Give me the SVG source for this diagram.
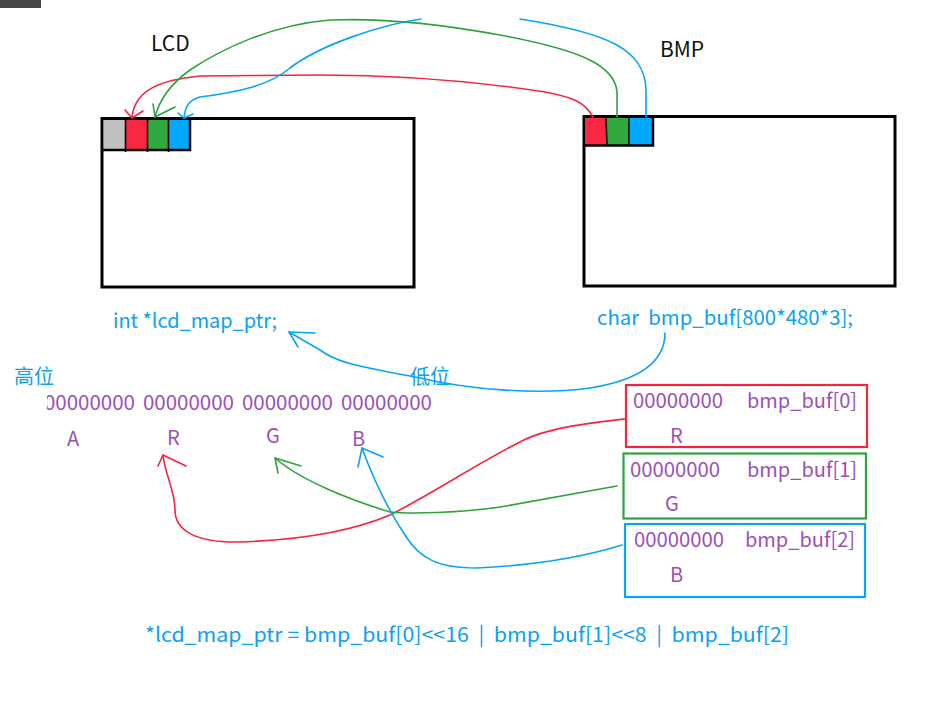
<svg xmlns="http://www.w3.org/2000/svg" width="947" height="714" viewBox="0 0 947 714">
<style>
text{font-family:"Noto Sans CJK SC","Noto Sans",sans-serif;}
.lbl{font-size:21px;fill:#111;}
.bl{font-size:20px;fill:#0aa1f0;white-space:pre;}
.pu{font-size:20px;fill:#9b4fb8;white-space:pre;}
.frame{fill:none;stroke:#000;stroke-width:3;}
.r{fill:none;stroke:#f5243f;stroke-width:1.6;stroke-linecap:round;stroke-linejoin:round;}
.g{fill:none;stroke:#2ea23c;stroke-width:1.6;stroke-linecap:round;stroke-linejoin:round;}
.b{fill:none;stroke:#08a4fa;stroke-width:1.6;stroke-linecap:round;stroke-linejoin:round;}
</style>
<defs>
<clipPath id="clipbin"><rect x="47" y="380" width="420" height="50"/></clipPath>
</defs>
<rect x="0" y="0" width="947" height="714" fill="#fff"/>
<rect x="0" y="0" width="41" height="8" fill="#474747"/>

<g id="lcd">
<text class="lbl" x="151" y="51">LCD</text>
<rect class="frame" x="102" y="118.5" width="312" height="168.5"/>
<rect x="104" y="120" width="21" height="30" fill="#c0c0c0"/>
<rect x="126" y="120" width="21" height="30" fill="#fb2841"/>
<rect x="148" y="120" width="20" height="30" fill="#31a93e"/>
<rect x="169" y="120" width="20" height="30" fill="#00a8ff"/>
<path d="M102,150 H190 V118.5" fill="none" stroke="#000" stroke-width="2.5"/>
<path d="M125.5,119 V152 M147.5,119 V152 M168.5,119 V152" stroke="#000" stroke-width="1.6"/>
</g>

<g id="bmp">
<text class="lbl" x="660" y="57">BMP</text>
<rect class="frame" x="584" y="116.5" width="311" height="169.5"/>
<rect x="585" y="118" width="21" height="27" fill="#fb2841"/>
<rect x="607" y="118" width="22" height="27" fill="#31a93e"/>
<rect x="630" y="118" width="22" height="27" fill="#00a8ff"/>
<path d="M584,145.5 H653 V116.5" fill="none" stroke="#000" stroke-width="2.5"/>
<path d="M606,117 L607,146 M629,117 V146" stroke="#000" stroke-width="1.6"/>
</g>

<g id="lcd-ptr">
<text class="bl" x="113" y="328" textLength="164" lengthAdjust="spacingAndGlyphs">int *lcd_map_ptr;</text>
</g>
<g id="bmp-buf">
<text class="bl" x="597" y="325" textLength="256" lengthAdjust="spacingAndGlyphs">char  bmp_buf[800*480*3];</text>
</g>

<g id="bits">
<text class="bl" x="14" y="384">高位</text>
<text class="bl" x="410" y="384">低位</text>
<g clip-path="url(#clipbin)">
<text class="pu" x="44" y="410" textLength="91" lengthAdjust="spacingAndGlyphs">00000000</text>
</g>
<text class="pu" x="143" y="410" textLength="91" lengthAdjust="spacingAndGlyphs">00000000</text>
<text class="pu" x="242" y="410" textLength="91" lengthAdjust="spacingAndGlyphs">00000000</text>
<text class="pu" x="341" y="410" textLength="91" lengthAdjust="spacingAndGlyphs">00000000</text>
<text class="pu" x="67" y="446">A</text>
<text class="pu" x="167" y="445">R</text>
<text class="pu" x="266" y="443">G</text>
<text class="pu" x="352" y="446">B</text>
</g>

<g id="buf0">
<rect x="626" y="385" width="241" height="62" fill="none" stroke="#f5243f" stroke-width="2.2"/>
<text class="pu" x="633" y="408" textLength="90" lengthAdjust="spacingAndGlyphs">00000000</text>
<text class="pu" x="747" y="408" textLength="110" lengthAdjust="spacingAndGlyphs">bmp_buf[0]</text>
<text class="pu" x="670" y="443">R</text>
</g>
<g id="buf1">
<rect x="623.5" y="453.5" width="242.5" height="65" fill="none" stroke="#2ea23c" stroke-width="2.2"/>
<text class="pu" x="630" y="477" textLength="90" lengthAdjust="spacingAndGlyphs">00000000</text>
<text class="pu" x="747" y="477" textLength="110" lengthAdjust="spacingAndGlyphs">bmp_buf[1]</text>
<text class="pu" x="665" y="511">G</text>
</g>
<g id="buf2">
<rect x="625" y="524" width="240" height="73" fill="none" stroke="#08a4fa" stroke-width="2.2"/>
<text class="pu" x="634" y="547" textLength="90" lengthAdjust="spacingAndGlyphs">00000000</text>
<text class="pu" x="745" y="547" textLength="110" lengthAdjust="spacingAndGlyphs">bmp_buf[2]</text>
<text class="pu" x="670" y="582">B</text>
</g>

<g id="formula">
<text class="bl" x="145" y="642" textLength="644" lengthAdjust="spacingAndGlyphs">*lcd_map_ptr = bmp_buf[0]&lt;&lt;16  |  bmp_buf[1]&lt;&lt;8  |  bmp_buf[2]</text>
</g>

<g id="connectors">
<path class="r" d="M593,117 C585,102 572,97 545,92 C480,82 400,75 320,75 L200,76 C160,80 135,90 132,117"/>
<path class="r" d="M125,110 L132,118 L143,111"/>
<path class="g" d="M617,117 L617,92 C615,65 580,50 500,35 C440,24 380,18 330,20 C270,25 220,50 190,70 C165,88 158,105 155,117"/>
<path class="g" d="M153,104 L155,117 L175,107"/>
<path class="b" d="M646,117 L646,90 C645,50 610,33 520,19"/>
<path class="b" d="M421,19 C380,25 320,45 290,68 C270,85 240,92 200,97 C188,100 185,108 184,118"/>
<path class="b" d="M178,113 L184,118 L193,114"/>
<path class="b" d="M665,333 C665,362 640,380 590,388 C540,395 470,390 420,378 C370,368 340,365 320,350 L289,332"/>
<path class="b" d="M315,333 L289,332 L298,347"/>
<path class="r" d="M625,419 C590,423 545,428 520,442 C480,462 430,495 390,515 C350,532 300,540 240,542 C195,543 175,530 175,510 C175,490 165,475 163,455"/>
<path class="r" d="M158,466 L163,455 L186,466"/>
<path class="g" d="M617,486 C580,493 540,500 500,507 C460,513 410,514 390,512 C350,500 300,480 275,458"/>
<path class="g" d="M278,473 L275,458 L301,466"/>
<path class="b" d="M622,545 C590,555 540,565 477,568 C440,568 420,560 405,535 C385,505 370,470 362,448"/>
<path class="b" d="M358,467 L362,448 L383,457"/>
</g>
</svg>
